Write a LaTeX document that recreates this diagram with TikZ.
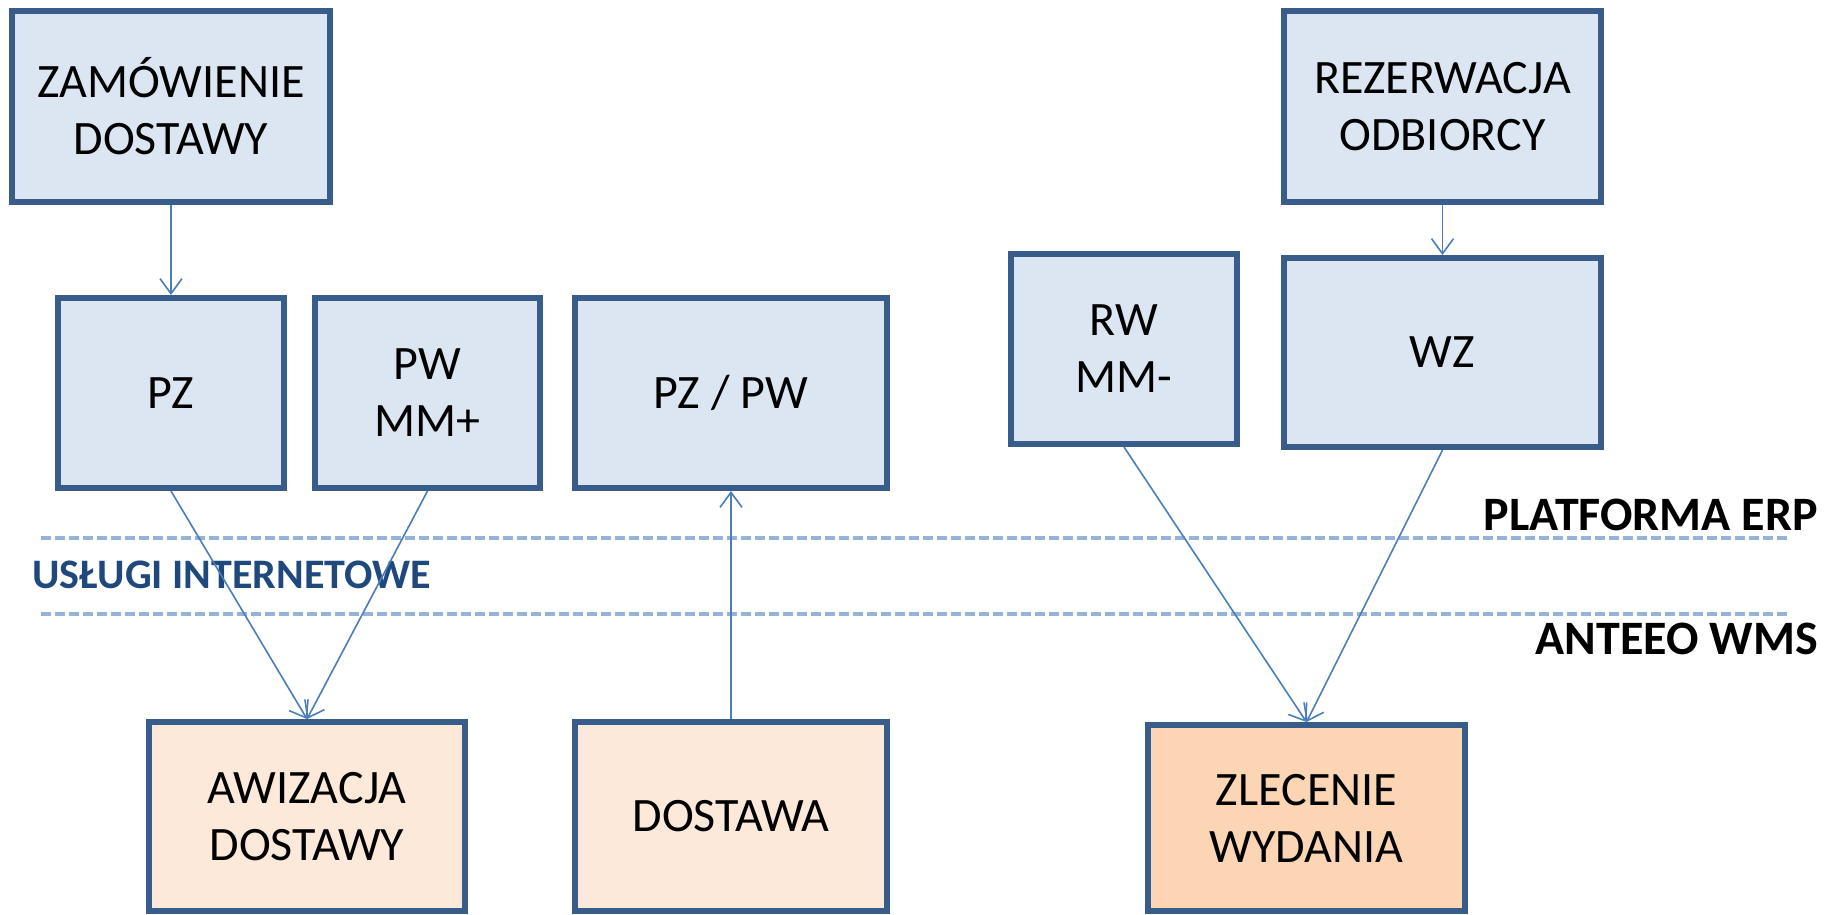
\documentclass[tikz,border=0pt]{standalone}
\usepackage{fontspec}
\setmainfont{Carlito}
\usetikzlibrary{arrows.meta}
\definecolor{boxline}{RGB}{56,93,138}
\definecolor{erpfill}{RGB}{220,230,242}
\definecolor{wmsfill}{RGB}{253,233,217}
\definecolor{wmsfilldark}{RGB}{252,213,181}
\definecolor{arrowc}{RGB}{74,126,187}
\definecolor{dashc}{RGB}{149,179,215}
\definecolor{labelblue}{RGB}{31,73,125}
\tikzset{
  box/.style={draw=boxline, line width=6pt, rectangle, align=center,
    font=\fontsize{48}{57}\selectfont, inner sep=0pt},
  erpbox/.style={box, fill=erpfill},
  wmsbox/.style={box, fill=wmsfill},
  conn/.style={draw=arrowc, line width=1.6pt, -{Straight Barb[length=15pt,width=22pt,line width=1.6pt]}},
  sepline/.style={draw=dashc, line width=4.5pt, dash pattern=on 10pt off 4pt},
  lvlabel/.style={font=\fontsize{48}{58}\selectfont\bfseries, inner sep=0pt}
}
\begin{document}
\begin{tikzpicture}[x=1pt,y=-1pt]
\useasboundingbox (0,0) rectangle (1837,914);
% ERP boxes
\node[erpbox, minimum width=318pt, minimum height=191pt] (zam) at (171,106.5) {ZAMÓWIENIE\\DOSTAWY};
\node[erpbox, minimum width=226pt, minimum height=190pt] (pz) at (171,393) {PZ};
\node[erpbox, minimum width=225pt, minimum height=190pt] (pw) at (427.5,393) {PW\\MM+};
\node[erpbox, minimum width=312pt, minimum height=190pt] (pzpw) at (731,393) {PZ / PW};
\node[erpbox, minimum width=226pt, minimum height=190pt] (rw) at (1124,349) {RW\\MM-};
\node[erpbox, minimum width=317pt, minimum height=191pt] (rez) at (1442.5,106.5) {REZERWACJA\\ODBIORCY};
\node[erpbox, minimum width=317pt, minimum height=189pt] (wz) at (1442.5,352.5) {WZ};
% WMS boxes
\node[wmsbox, minimum width=316pt, minimum height=189pt] (awiz) at (307,816.5) {AWIZACJA\\DOSTAWY};
\node[wmsbox, minimum width=312pt, minimum height=189pt] (dost) at (731,816.5) {DOSTAWA};
\node[box, fill=wmsfilldark, minimum width=317pt, minimum height=186pt] (zlec) at (1306.5,818) {ZLECENIE\\WYDANIA};
% separators
\coordinate (l1a) at (41,538); \coordinate (l1b) at (1788,538);
\coordinate (l2a) at (41,614); \coordinate (l2b) at (1788,614);
\draw[sepline] (l1a) -- (l1b);
\draw[sepline] (l2a) -- (l2b);
% layer labels
\node[lvlabel, anchor=east] (erp) at (1818,515) {PLATFORMA ERP};
\node[lvlabel, anchor=east] (wms) at (1818,639) {ANTEEO WMS};
\node[font=\fontsize{42}{50}\selectfont\bfseries, text=labelblue, inner sep=0pt, anchor=west] (ws) at (32,575) {USŁUGI INTERNETOWE};
% connectors
\draw[conn] (zam.south) -- (pz.north);
\draw[conn] (rez.south) -- (wz.north);
\draw[conn] (pz.south) -- (awiz.north);
\draw[conn] (pw.south) -- (awiz.north);
\draw[conn] (dost.north) -- (pzpw.south);
\draw[conn] (rw.south) -- (zlec.north);
\draw[conn] (wz.south) -- (zlec.north);
\end{tikzpicture}
\end{document}
